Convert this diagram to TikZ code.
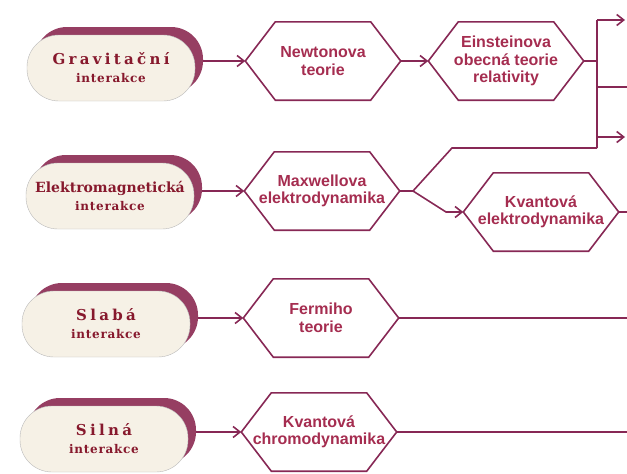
\documentclass[tikz,border=0pt]{standalone}
\usepackage{fontspec}
\setmainfont{DejaVu Serif}
\newfontfamily\hexfont{Liberation Sans}
\usepackage{xcolor}
\usepackage{tikz}
\usetikzlibrary{positioning, arrows.meta}
\definecolor{wine}{RGB}{135,40,85}
\definecolor{hextxt}{RGB}{165,45,80}
\definecolor{pilltxt}{RGB}{135,25,45}
\definecolor{cream}{RGB}{246,241,230}
\definecolor{pillsh}{RGB}{150,62,98}
\newcommand\spaced[1]{{\addfontfeatures{LetterSpace=22}#1}}
\newcommand\sublabel[1]{{\fontsize{12}{14}\selectfont\addfontfeatures{LetterSpace=6}#1}}
\tikzset{
  pill/.style={draw=gray!55, fill=cream, rounded corners=32pt, minimum width=168pt,
               minimum height=66pt, inner sep=0pt, font=\bfseries\fontsize{15}{18}\selectfont,
               text=pilltxt, align=center},
  pillshadow/.style={fill=pillsh, rounded corners=32pt, minimum width=168pt, minimum height=66pt},
  hexa/.style={minimum width=155pt, minimum height=78pt, inner sep=0pt,
               font=\hexfont\bfseries\fontsize{16}{17.5}\selectfont, text=hextxt, align=center},
  hexline/.style={draw=wine, line width=1.6pt, line join=miter},
  flow/.style={-{Straight Barb[length=7pt, width=11pt]}, line width=1.6pt, wine},
  link/.style={line width=1.6pt, wine}
}

\begin{document}
\begin{tikzpicture}[x=1pt, y=-1pt]
  \useasboundingbox (0,0) rectangle (627,474);
  % interactions
  \node[pillshadow] (gravsh) at (119,60) {};
  \node[pill] (grav) at (111,68) {\spaced{Gravitační}\\\sublabel{interakce}};
  \node[pillshadow] (emsh) at (118,188) {};
  \node[pill] (em) at (110,196) {{\fontsize{14}{18}\selectfont Elektromagnetická}\\\sublabel{interakce}};
  \node[pillshadow] (slabsh) at (114,316) {};
  \node[pill] (slab) at (106,324) {\spaced{Slabá}\\\sublabel{interakce}};
  \node[pillshadow] (silnsh) at (112,431) {};
  \node[pill] (siln) at (104,439) {\spaced{Silná}\\\sublabel{interakce}};
  % theories
  \node[hexa] (newt) at (323,61) {Newtonova\\teorie};
  \node[hexa] (ein) at (506,61) {Einsteinova\\obecná teorie\\relativity};
  \node[hexa] (max) at (322,191) {Maxwellova\\elektrodynamika};
  \node[hexa] (qed) at (541,212) {Kvantová\\elektrodynamika};
  \node[hexa] (fer) at (321,318) {Fermiho\\teorie};
  \node[hexa] (qcd) at (319,432) {Kvantová\\chromodynamika};
  \foreach \n in {newt,ein,max,qed,fer,qcd}
    \draw[hexline] (\n.west) -- ([xshift=30pt]\n.north west) -- ([xshift=-30pt]\n.north east)
      -- (\n.east) -- ([xshift=-30pt]\n.south east) -- ([xshift=30pt]\n.south west) -- cycle;
  % branch points
  \coordinate (jn) at (597,61);
  \coordinate (vtop) at (597,20);
  \coordinate (vmid) at (597,87);
  \coordinate (vlow) at (597,137);
  \coordinate (vbot) at (597,148);
  \coordinate (out1) at (625,20);
  \coordinate (out2) at (627,87);
  \coordinate (out3) at (625,137);
  \coordinate (msplit) at (413,191);
  \coordinate (mup) at (452,148);
  \coordinate (mdown) at (446,212);
  \coordinate (qout) at (627,212);
  \coordinate (fout) at (627,318);
  \coordinate (cout) at (627,432);
  % flows
  \draw[flow] (gravsh.east |- newt.west) -- (newt.west);
  \draw[flow] (emsh.east |- max.west) -- (max.west);
  \draw[flow] (slabsh.east |- fer.west) -- (fer.west);
  \draw[flow] (silnsh.east |- qcd.west) -- (qcd.west);
  \draw[flow] (newt.east) -- (ein.west);
  \draw[link] (ein.east) -- (jn);
  \draw[link] (vtop) -- (vbot);
  \draw[flow] (vtop) -- (out1);
  \draw[link] (vmid) -- (out2);
  \draw[flow] (vlow) -- (out3);
  \draw[link] (max.east) -- (msplit) -- (mup) -- (vbot);
  \draw[flow] (msplit) -- (mdown) -- (qed.west);
  \draw[link] (qed.east) -- (qout);
  \draw[link] (fer.east) -- (fout);
  \draw[link] (qcd.east) -- (cout);
\end{tikzpicture}
\end{document}
